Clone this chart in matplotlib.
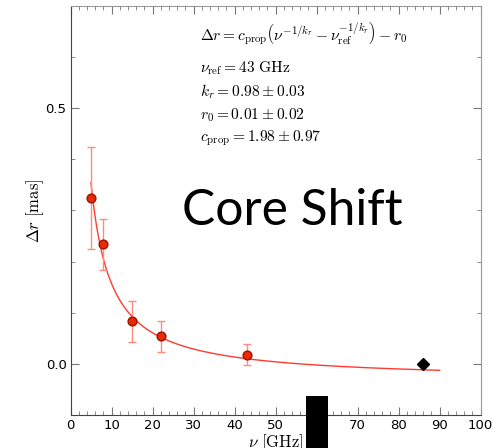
import numpy as np
import matplotlib
matplotlib.use('Agg')
import matplotlib.pyplot as plt
from matplotlib.patches import Rectangle

plt.rcParams['mathtext.fontset'] = 'cm'

# measured core shifts
nu = [5, 8, 15, 22, 43]             # GHz
dr = [0.324, 0.234, 0.083, 0.054, 0.018]   # mas
dr_err = [0.10, 0.05, 0.04, 0.03, 0.02]

# extra point (black diamond)
nu_extra = [86]
dr_extra = [0.0]

# fit parameters
nu_ref = 43.0
k_r = 0.98
r_0 = 0.01
c_prop = 1.98

nu_fit = np.linspace(4.95, 90, 400)
dr_fit = c_prop * (nu_fit**(-1 / k_r) - nu_ref**(-1 / k_r)) + r_0

fig = plt.figure(figsize=(4.93, 4.48), dpi=100)
ax = fig.add_axes([0.1434, 0.0737, 0.8316, 0.9129])

ax.plot(nu_fit, dr_fit, color='#ff3b30', lw=1.0, zorder=2)
ax.errorbar(nu, dr, yerr=dr_err, fmt='o', color='#ea2a05', mec='#a01000',
            ms=6.3, ecolor='#ff8a80', elinewidth=1.0, capsize=3, capthick=1.0, zorder=3)
ax.plot(nu_extra, dr_extra, 'D', color='black', ms=6.5, zorder=4)

ax.set_xlim(0, 100)
ax.set_ylim(-0.1, 0.7)
ax.set_xticks(np.arange(0, 101, 10))
ax.set_xticks(np.arange(0, 101, 2), minor=True)
ax.set_yticks([0.0, 0.5])
ax.set_yticks(np.arange(-0.1, 0.71, 0.1), minor=True)
ax.tick_params(which='both', direction='in', top=True, right=True,
               labelsize=9.5, color='#777777', pad=3)
ax.tick_params(which='major', length=6)
ax.tick_params(which='minor', length=3)
ax.yaxis.set_major_formatter(matplotlib.ticker.FormatStrFormatter('%.1f'))
for side in ['top', 'right']:
    ax.spines[side].set_color('#999999')
for side in ['left', 'bottom']:
    ax.spines[side].set_color('#444444')

ax.set_xlabel(r'$\nu\ [\mathrm{GHz}]$', fontsize=12, labelpad=0)
ax.set_ylabel(r'$\Delta r\ [\mathrm{mas}]$', fontsize=12, labelpad=0)

tx = 0.315
ax.text(tx, 0.934, r'$\Delta r = c_{\mathrm{prop}} \left(\nu^{-1/k_r} - \nu_{\mathrm{ref}}^{-1/k_r}\right) - r_0$',
        transform=ax.transAxes, fontsize=11.2, va='center')
lines = [r'$\nu_{\mathrm{ref}} = %d\ \mathrm{GHz}$' % nu_ref,
         r'$k_r = %.2f \pm 0.03$' % k_r,
         r'$r_0 = %.2f \pm 0.02$' % r_0,
         r'$c_{\mathrm{prop}} = %.2f \pm 0.97$' % c_prop]
for i, s in enumerate(lines):
    ax.text(tx, 0.848 - i * 0.0573, s, transform=ax.transAxes, fontsize=11.2, va='center')

ax.text(0.541, 0.499, 'Core Shift', transform=ax.transAxes, fontsize=35.8,
        family='Lato', va='center', ha='center')

fig.patches.append(Rectangle((306 / 493, 0), 22 / 493, 52 / 448, transform=fig.transFigure,
                             facecolor='black', edgecolor='none', zorder=10))

fig.savefig('out.png', dpi=100)
